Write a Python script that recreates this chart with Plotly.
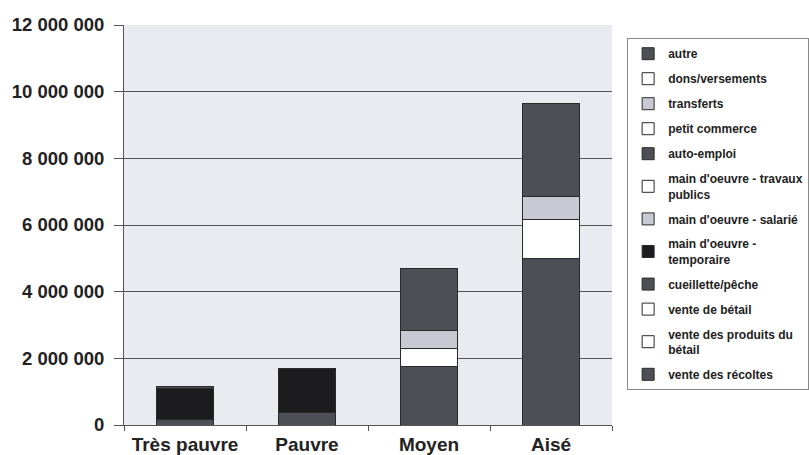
import plotly.graph_objects as go

categories = ["Très pauvre", "Pauvre", "Moyen", "Aisé"]

# Values (currency units), bottom of stack first
series_names = [
    "vente des récoltes",
    "vente des produits du<br>bétail",
    "vente de bétail",
    "cueillette/pêche",
    "main d'oeuvre -<br>temporaire",
    "main d'oeuvre - salarié",
    "main d'oeuvre - travaux<br>publics",
    "auto-emploi",
    "petit commerce",
    "transferts",
    "dons/versements",
    "autre",
]
vente_recoltes = [180000, 380000, 1750000, 5000000]
vente_produits_betail = [0, 0, 0, 0]
vente_betail = [0, 0, 550000, 1170000]
cueillette_peche = [0, 0, 0, 0]
mo_temporaire = [930000, 1320000, 0, 0]
mo_salarie = [0, 0, 530000, 680000]
mo_travaux_publics = [0, 0, 0, 0]
auto_emploi = [0, 0, 1870000, 2800000]
petit_commerce = [0, 0, 0, 0]
transferts = [0, 0, 0, 0]
dons_versements = [0, 0, 0, 0]
autre = [50000, 0, 0, 0]

series_values = [
    vente_recoltes, vente_produits_betail, vente_betail, cueillette_peche,
    mo_temporaire, mo_salarie, mo_travaux_publics, auto_emploi,
    petit_commerce, transferts, dons_versements, autre,
]

DARK = "#4e4e56"
BLACK = "#1c1c1e"
LIGHT = "#c9c9d3"
WHITE = "#ffffff"
series_colors = [
    DARK, WHITE, WHITE, DARK, BLACK, LIGHT, WHITE, DARK, WHITE, LIGHT, WHITE, DARK,
]

y_tickvals = [0, 2000000, 4000000, 6000000, 8000000, 10000000, 12000000]
y_ticktext = ["0", "2 000 000", "4 000 000", "6 000 000", "8 000 000",
              "10 000 000", "12 000 000"]

fig = go.Figure()
n = len(series_names)
for i, (name, vals, col) in enumerate(zip(series_names, series_values, series_colors)):
    fig.add_trace(go.Bar(
        x=categories, y=vals, name=name, legendgroup=f"g{i}",
        legendrank=100 + (n - i),
        marker=dict(color=col, line=dict(color="#2a2a2a", width=1)),
    ))

fig.update_layout(
    width=809, height=455,
    barmode="stack", bargap=0.54,
    margin=dict(l=124, r=197, t=25, b=30, autoexpand=False),
    paper_bgcolor="white",
    plot_bgcolor="#eaeaf1",
    font=dict(family="Liberation Sans, Arial, sans-serif", color="#222"),
    showlegend=True,
    legend=dict(
        x=1.031, y=0.967, xanchor="left", yanchor="top",
        traceorder="grouped", tracegroupgap=6,
        bgcolor="white", bordercolor="#888", borderwidth=1,
        font=dict(size=12, color="#222", weight="bold"),
        itemwidth=30,
    ),
    xaxis=dict(
        showline=True, linecolor="#555", linewidth=1,
        ticks="outside", tickson="boundaries", ticklen=5, tickcolor="#555",
        tickfont=dict(size=19, weight="bold", color="#222"),
        ticklabelstandoff=2, automargin=False,
    ),
    yaxis=dict(
        range=[0, 12000000], tickvals=y_tickvals, ticktext=y_ticktext,
        showline=True, linecolor="#555", linewidth=1,
        ticks="outside", ticklen=9, tickcolor="#555",
        showgrid=True, gridcolor="#555", gridwidth=1,
        tickfont=dict(size=18.5, weight="bold", color="#222"),
        ticklabelstandoff=6, automargin=False,
        zeroline=False,
    ),
)

fig.write_html("out.html")
